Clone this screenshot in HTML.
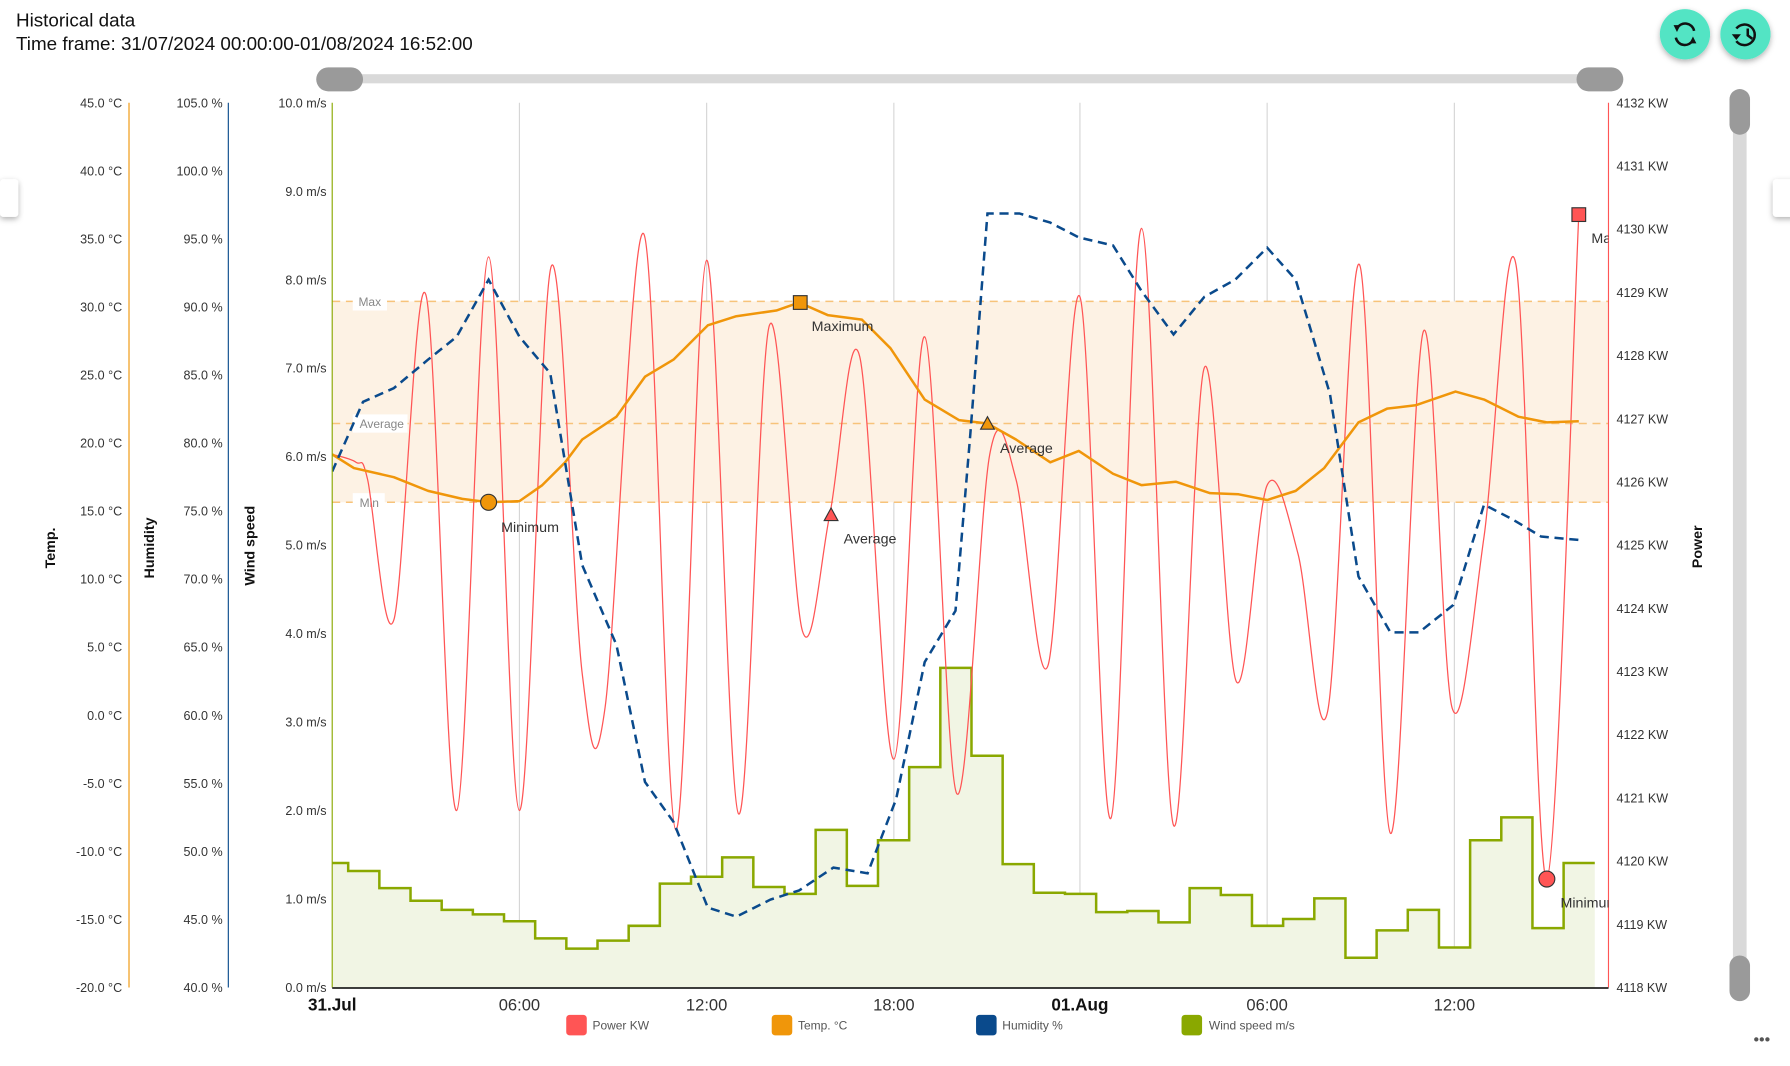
<!DOCTYPE html>
<html><head><meta charset="utf-8"><style>
html,body{margin:0;padding:0;background:#fff;width:1790px;height:1066px;overflow:hidden}
svg{display:block}
text{font-family:"Liberation Sans",sans-serif}
</style></head><body>
<svg id="s" width="1790" height="1066" viewBox="0 0 1568 933.8" xmlns="http://www.w3.org/2000/svg">
<defs>
<filter id="sh" x="-30%" y="-30%" width="160%" height="160%"><feDropShadow dx="0" dy="2" stdDeviation="2.5" flood-opacity="0.3"/></filter>
<clipPath id="pc"><rect x="291" y="80" width="1118" height="786"/></clipPath>
</defs>
<text x="14" y="23" font-size="16.5" fill="#111">Historical data</text>
<text x="14" y="44" font-size="16.5" fill="#111">Time frame: 31/07/2024 00:00:00-01/08/2024 16:52:00</text>
<circle cx="1476" cy="30" r="22" fill="#52e4c4" filter="url(#sh)"/>
<circle cx="1529" cy="30" r="22" fill="#52e4c4" filter="url(#sh)"/>
<g fill="none" stroke="#111" stroke-width="2.2">
<path d="M1469 25 A8 8 0 0 1 1484 27"/><path d="M1483 35 A8 8 0 0 1 1468 33"/>
<path d="M1521 25 A9 9 0 1 1 1521 36"/><path d="M1531 25 V31 L1535 34"/>
</g>
<path d="M1466 22 L1472 22 L1469 28Z M1486 38 L1480 38 L1483 32Z" fill="#111"/>
<path d="M1517 30 L1525 30 L1521 35Z" fill="#111"/>
<rect x="0" y="157" width="16" height="33" rx="3" fill="#fff" filter="url(#sh)"/>
<rect x="1553" y="157" width="20" height="33" rx="3" fill="#fff" filter="url(#sh)"/>
<rect x="280" y="65" width="1140" height="8" fill="#d9d9d9"/>
<rect x="277" y="59" width="41" height="21" rx="10.5" fill="#9a9a9a"/>
<rect x="1381" y="59" width="41" height="21" rx="10.5" fill="#9a9a9a"/>
<rect x="1518" y="82" width="12" height="792" fill="#d9d9d9"/>
<rect x="1515" y="78" width="18" height="40" rx="9" fill="#9a9a9a"/>
<rect x="1515" y="837" width="18" height="40" rx="9" fill="#9a9a9a"/>
<g id="grid" stroke="#d6d6d6" stroke-width="1"></g>
<rect x="291" y="264" width="1118" height="176" fill="#fdf2e4"/>
<g stroke="#f7c37a" stroke-width="1.3" stroke-dasharray="7,5">
<line x1="291" y1="264" x2="1409" y2="264"/><line x1="291" y1="371" x2="1409" y2="371"/><line x1="291" y1="440" x2="1409" y2="440"/>
</g>
<g font-size="10.5" fill="#888">
<rect x="309" y="256" width="30" height="16" fill="#fff"/><text x="314" y="268">Max</text>
<rect x="309" y="363" width="48" height="16" fill="#fff"/><text x="315" y="375">Average</text>
<rect x="309" y="432" width="28" height="16" fill="#fff"/><text x="315" y="444">Min</text>
</g>
<g id="series" clip-path="url(#pc)"></g>
<line x1="113" y1="90" x2="113" y2="865" stroke="#f0960a" stroke-width="1"/>
<line x1="200" y1="90" x2="200" y2="865" stroke="#0a4a8c" stroke-width="1"/>
<line x1="291" y1="90" x2="291" y2="865" stroke="#8aa800" stroke-width="1"/>
<line x1="1409" y1="90" x2="1409" y2="865" stroke="#f55" stroke-width="1"/>
<line x1="291" y1="865.5" x2="1409" y2="865.5" stroke="#222" stroke-width="1.5"/>
<g id="labels" font-size="11" fill="#333"></g>
<g font-size="12.5" font-weight="bold" fill="#111">
<text transform="translate(48,480) rotate(-90)" text-anchor="middle">Temp.</text>
<text transform="translate(135,480) rotate(-90)" text-anchor="middle">Humidity</text>
<text transform="translate(223,478) rotate(-90)" text-anchor="middle">Wind speed</text>
<text transform="translate(1491,479) rotate(-90)" text-anchor="middle">Power</text>
</g>
<g font-size="10.5" fill="#555">
<rect x="496" y="889" width="18" height="18" rx="3" fill="#f55"/><text x="519" y="902">Power  KW</text>
<rect x="676" y="889" width="18" height="18" rx="3" fill="#f0960a"/><text x="699" y="902">Temp.  °C</text>
<rect x="855" y="889" width="18" height="18" rx="3" fill="#0a4a8c"/><text x="878" y="902">Humidity  %</text>
<rect x="1035" y="889" width="18" height="18" rx="3" fill="#8aa800"/><text x="1059" y="902">Wind speed  m/s</text>
</g>
<text x="1536" y="915" font-size="14" fill="#555">•••</text>
</svg>
<script>
var NS="http://www.w3.org/2000/svg",S=document.getElementById('series');
function el(p,t,a){var e=document.createElementNS(NS,t);for(var k in a)e.setAttribute(k,a[k]);p.appendChild(e);return e}
var G=document.getElementById('grid');
[455,619,783,946,1110,1274].forEach(function(x){el(G,'line',{x1:x,y1:90,x2:x,y2:865})});
var L=document.getElementById('labels');
function tx(x,y,s,a,extra){var t=el(L,'text',Object.assign({x:x,y:y,'text-anchor':a||'end'},extra||{}));t.textContent=s;}
for(var i=0;i<=13;i++){var y=865-i*775/13;tx(107,y+4,(-20+5*i).toFixed(1)+' °C');tx(195,y+4,(40+5*i).toFixed(1)+' %');}
for(var i=0;i<=10;i++){var y=865-i*77.5;tx(286,y+4,i.toFixed(1)+' m/s');}
for(var i=0;i<=14;i++){var y=865-i*775/14;tx(1416,y+4,(4118+i)+' KW','start');}
var tl=[[291,'31.Jul',1],[455,'06:00'],[619,'12:00'],[783,'18:00'],[946,'01.Aug',1],[1110,'06:00'],[1274,'12:00']];
tl.forEach(function(a){tx(a[0],885,a[1],'middle',a[2]?{'font-weight':'bold','font-size':'15','fill':'#111'}:{'font-size':'14.5','fill':'#333'})});
// wind steps
var ws=[756,763,778,789,797,801,807,822,831,824,811,774,768,751,777,783,727,776,736,672,585,662,757,782,783,799,798,808,778,784,811,805,787,839,815,797,830,736,716,813,756];
var d='M291 '+ws[0]+' H305',x=305;
for(var i=1;i<ws.length;i++){d+=' V'+ws[i]+' H'+(i==ws.length-1?1397:x+27.3);x+=27.3;}
el(S,'path',{d:d+' V865 H291Z',fill:'#f1f5e4'});
el(S,'path',{d:d,fill:'none',stroke:'#8aa800','stroke-width':2.2});
function poly(p){return 'M'+p.map(function(a){return a.join(' ')}).join(' L')}
function smooth(p){var d='M'+p[0][0]+' '+p[0][1];for(var i=0;i<p.length-1;i++){var p0=p[i-1]||p[i],p1=p[i],p2=p[i+1],p3=p[i+2]||p2;
d+=' C'+(p1[0]+(p2[0]-p0[0])/6)+' '+(p1[1]+(p2[1]-p0[1])/6)+' '+(p2[0]-(p3[0]-p1[0])/6)+' '+(p2[1]-(p3[1]-p1[1])/6)+' '+p2[0]+' '+p2[1];}return d}
var pw=[[291,398],[312,405],[322,420],[345,543],[373,258],[400,710],[428,225],[455,710],[483,233],[510,590],[530,620],[564,205],[592,727],[619,228],[647,713],[674,285],[703,553],[727,450],[753,312],[783,665],[810,295],[838,695],[867,398],[890,420],[918,583],[946,260],[973,717],[1000,200],[1028,723],[1055,322],[1083,597],[1110,425],[1137,485],[1163,623],[1191,232],[1218,730],[1247,290],[1272,620],[1300,470],[1328,232],[1355,770],[1383,188]];
el(S,'path',{d:smooth(pw),fill:'none',stroke:'#f55','stroke-width':1.1});
var tp=[[291,398],[310,410],[345,418],[375,430],[405,437],[428,440],[455,439],[475,425],[495,405],[510,385],[540,365],[565,330],[590,315],[620,285],[645,277],[680,272],[700,265],[725,276],[755,280],[780,305],[810,350],[840,368],[865,371],[890,385],[920,405],[945,395],[975,415],[1000,425],[1030,422],[1060,432],[1085,433],[1110,438],[1135,430],[1160,410],[1190,370],[1215,358],[1240,355],[1275,343],[1300,350],[1330,365],[1355,370],[1383,369]];
el(S,'path',{d:poly(tp),fill:'none',stroke:'#f0960a','stroke-width':2.2,'stroke-linejoin':'round'});
var hm=[[291,413],[318,352],[345,340],[375,315],[400,295],[428,245],[455,295],[482,327],[510,495],[540,565],[565,685],[590,720],[620,795],[645,803],[675,788],[700,780],[730,760],[760,765],[785,700],[810,580],[837,535],[850,380],[865,187],[893,187],[920,195],[945,208],[975,215],[1000,255],[1028,293],[1055,260],[1082,245],[1110,217],[1135,245],[1165,345],[1190,505],[1218,554],[1243,554],[1273,530],[1300,442],[1325,455],[1350,470],[1383,473]];
el(S,'path',{d:poly(hm),fill:'none',stroke:'#0a4a8c','stroke-width':2.2,'stroke-dasharray':'8,5'});
var M=document.getElementById('s');
el(M,'circle',{cx:428,cy:440,r:7,fill:'#f0960a',stroke:'#333','stroke-width':1});
el(M,'rect',{x:695,y:259,width:12,height:12,fill:'#f0960a',stroke:'#333','stroke-width':1});
el(M,'path',{d:'M865 365 L871 376 L859 376Z',fill:'#f0960a',stroke:'#333','stroke-width':1});
el(M,'path',{d:'M728 445 L734 456 L722 456Z',fill:'#f55',stroke:'#333','stroke-width':1});
el(M,'rect',{x:1377,y:182,width:12,height:12,fill:'#f55',stroke:'#333','stroke-width':1});
el(M,'circle',{cx:1355,cy:770,r:7,fill:'#f55',stroke:'#333','stroke-width':1});
var A=el(M,'g',{'font-size':'12.5',fill:'#333'});
[[439,466,'Minimum'],[711,290,'Maximum'],[876,397,'Average'],[739,476,'Average']].forEach(function(a){var t=el(A,'text',{x:a[0],y:a[1]});t.textContent=a[2]});
var B=el(M,'g',{'font-size':'12.5',fill:'#333','clip-path':'url(#pc)'});
[[1394,213,'Max'],[1367,795,'Minimum']].forEach(function(a){var t=el(B,'text',{x:a[0],y:a[1]});t.textContent=a[2]});
</script>
</body></html>
